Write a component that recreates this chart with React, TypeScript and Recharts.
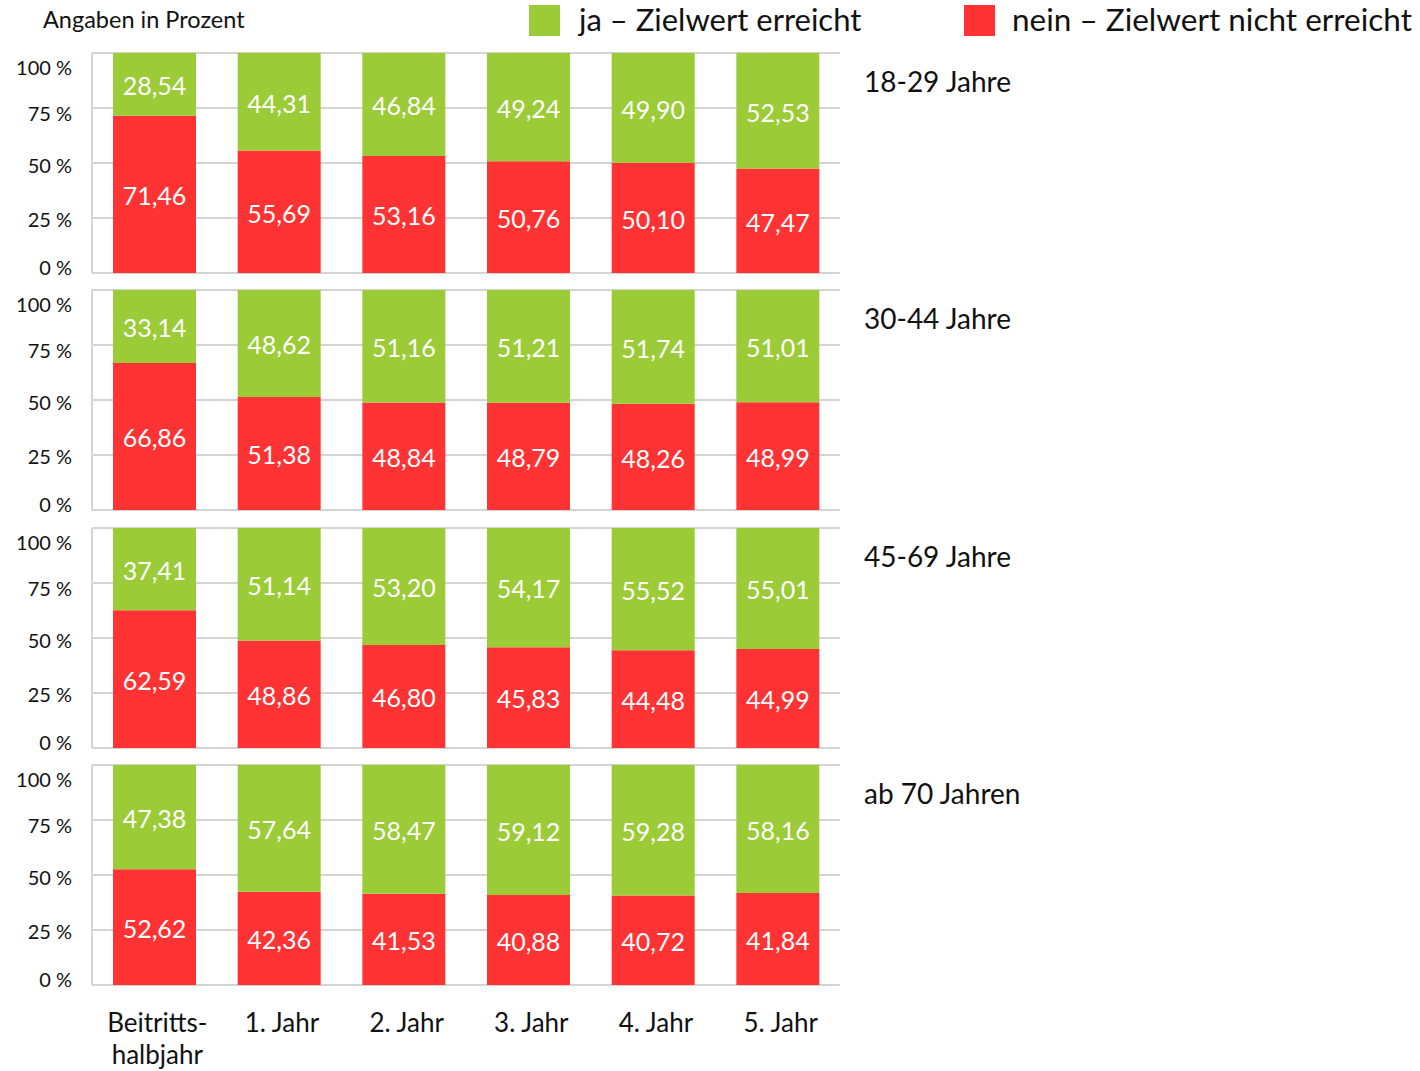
import { Bar, BarChart, CartesianGrid, LabelList, XAxis, YAxis } from "recharts";

const categories = ["Beitritts-\nhalbjahr", "1. Jahr", "2. Jahr", "3. Jahr", "4. Jahr", "5. Jahr"];
const ageGroups = ["18-29 Jahre", "30-44 Jahre", "45-69 Jahre", "ab 70 Jahren"];
const yTicks = [0, 25, 50, 75, 100];

const ja18 = [28.54, 44.31, 46.84, 49.24, 49.9, 52.53];
const nein18 = [71.46, 55.69, 53.16, 50.76, 50.1, 47.47];
const ja30 = [33.14, 48.62, 51.16, 51.21, 51.74, 51.01];
const nein30 = [66.86, 51.38, 48.84, 48.79, 48.26, 48.99];
const ja45 = [37.41, 51.14, 53.2, 54.17, 55.52, 55.01];
const nein45 = [62.59, 48.86, 46.8, 45.83, 44.48, 44.99];
const ja70 = [47.38, 57.64, 58.47, 59.12, 59.28, 58.16];
const nein70 = [52.62, 42.36, 41.53, 40.88, 40.72, 41.84];

const jaSeries = [ja18, ja30, ja45, ja70];
const neinSeries = [nein18, nein30, nein45, nein70];

const GREEN = "#9bcb37";
const RED = "#ff3334";
const GRID = "#d4d4d4";
const FONT = "Lato, 'Open Sans', sans-serif";

const PANEL_TOP = 53;
const PANEL_STEP = 237.3;
const PLOT_H = 220;
const M_TOP = 10;
const XAXIS_H = 96;

const fmt = (v: number) => v.toFixed(2).replace(".", ",");

// excel put the tick labels slightly off their gridlines
const tickNudge: Record<number, number> = { 0: -6, 25: 1, 50: 2, 75: 5, 100: 14 };

function YTick({ x, y, payload }: any) {
  return (
    <text
      x={x}
      y={y + (tickNudge[payload.value] ?? 0)}
      textAnchor="end"
      dominantBaseline="central"
      fontSize={20}
      fontFamily={FONT}
      fill="#111"
    >
      {`${payload.value} %`}
    </text>
  );
}

function XTick({ x, y, payload }: any) {
  const lines = String(payload.value).split("\n");
  return (
    <text x={x + 3} y={y} textAnchor="middle" fontSize={26} fontFamily={FONT} fill="#111">
      {lines.map((l, i) => (
        <tspan key={i} x={x + 3} dy={i === 0 ? 39 : 32}>
          {l}
        </tspan>
      ))}
    </text>
  );
}

function Panel({ idx }: { idx: number }) {
  const last = idx === ageGroups.length - 1;
  const data = categories.map((cat, i) => ({
    cat,
    ja: jaSeries[idx][i],
    nein: neinSeries[idx][i],
  }));
  const bottom = last ? 0 : 10;
  const height = PLOT_H + M_TOP + bottom + (last ? XAXIS_H : 0);
  const top = PANEL_TOP + idx * PANEL_STEP - M_TOP;
  return (
    <div style={{ position: "absolute", left: 0, top }}>
      <BarChart
        width={860}
        height={height}
        data={data}
        margin={{ top: M_TOP, right: 20, bottom, left: 10 }}
        barSize={83}
      >
        <CartesianGrid vertical={false} stroke={GRID} strokeWidth={2} />
        <XAxis
          dataKey="cat"
          hide={!last}
          axisLine={false}
          tickLine={false}
          interval={0}
          tick={<XTick />}
          height={XAXIS_H}
        />
        <YAxis
          type="number"
          domain={[0, 100]}
          ticks={yTicks}
          width={82}
          axisLine={{ stroke: GRID, strokeWidth: 2 }}
          tickLine={false}
          tickSize={0}
          tickMargin={20}
          tick={<YTick />}
        />
        <Bar dataKey="nein" stackId="a" fill={RED} isAnimationActive={false}>
          <LabelList
            dataKey="nein"
            position="center"
            formatter={(v: any) => fmt(Number(v))}
            fill="#fff"
            fontSize={25}
            fontFamily={FONT}
            dy={2}
          />
        </Bar>
        <Bar dataKey="ja" stackId="a" fill={GREEN} isAnimationActive={false}>
          <LabelList
            dataKey="ja"
            position="center"
            formatter={(v: any) => fmt(Number(v))}
            fill="#fff"
            fontSize={25}
            fontFamily={FONT}
            dy={2}
          />
        </Bar>
      </BarChart>
      <div
        style={{
          position: "absolute",
          left: 864,
          top: M_TOP + 11,
          fontFamily: FONT,
          fontSize: 28,
          color: "#111",
          whiteSpace: "nowrap",
        }}
      >
        {ageGroups[idx]}
      </div>
    </div>
  );
}

export default function App() {
  return (
    <div
      style={{
        position: "absolute",
        left: 0,
        top: 0,
        width: 1420,
        height: 1071,
        overflow: "hidden",
        background: "#fff",
        fontFamily: FONT,
      }}
    >
      <div style={{ position: "absolute", left: 43, top: 5, fontSize: 23.5, color: "#111", whiteSpace: "nowrap" }}>
        Angaben in Prozent
      </div>
      <div style={{ position: "absolute", left: 529, top: 5, width: 31, height: 31, background: GREEN }} />
      <div style={{ position: "absolute", left: 579, top: 0, fontSize: 31, color: "#111", whiteSpace: "nowrap" }}>
        ja – Zielwert erreicht
      </div>
      <div style={{ position: "absolute", left: 964, top: 5, width: 31, height: 31, background: RED }} />
      <div style={{ position: "absolute", left: 1012, top: 0, fontSize: 31.5, color: "#111", whiteSpace: "nowrap" }}>
        nein – Zielwert nicht erreicht
      </div>
      {ageGroups.map((_, i) => (
        <Panel key={i} idx={i} />
      ))}
    </div>
  );
}
